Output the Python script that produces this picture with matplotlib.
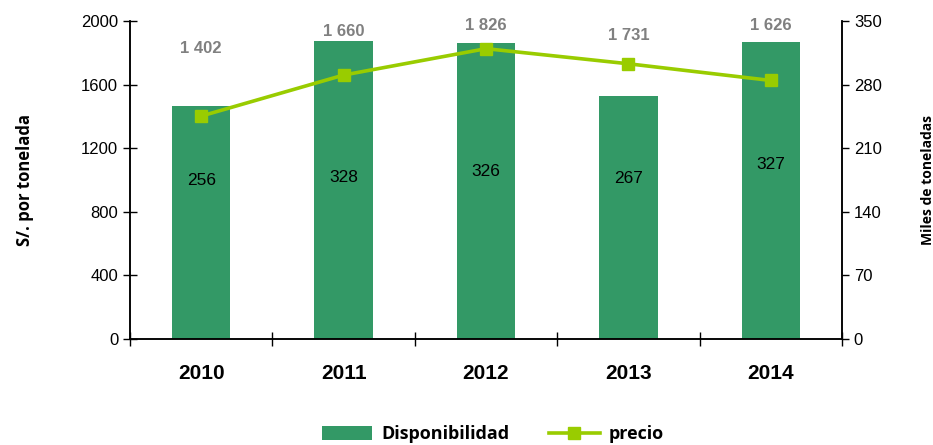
import numpy as np
import matplotlib.pyplot as plt

years = ['2010', '2011', '2012', '2013', '2014']
disponibilidad = [256, 328, 326, 267, 327]      # miles de toneladas
precio = [1402, 1660, 1826, 1731, 1626]          # S/. por tonelada

# where the value labels sit (in each axis' own units)
precio_label_y = [1828, 1931, 1969, 1906, 1969]
disp_label_y = [174, 178, 184, 177, 192]

bar_color = '#339966'
line_color = '#99cc00'

plt.rcParams['font.family'] = ['Liberation Sans', 'DejaVu Sans']

fig = plt.figure(figsize=(9.33, 4.45), dpi=100)
ax = fig.add_axes([0.1393, 0.2382, 0.7632, 0.7146])
ax2 = ax.twinx()

x = np.arange(len(years))

# bars on the right axis, price line on the left axis
ax2.bar(x, disponibilidad, width=0.41, color=bar_color, label='Disponibilidad', zorder=1)
ax.plot(x, precio, color=line_color, lw=2.6, marker='s', markersize=8,
        label='precio', zorder=5)
ax.set_zorder(ax2.get_zorder() + 1)
ax.patch.set_visible(False)

for xi, v, ly in zip(x, precio, precio_label_y):
    s = f'{v:,}'.replace(',', ' ')
    ax.text(xi, ly, s, ha='center', va='center', fontsize=12,
            fontweight='bold', color='#808080')
for xi, v, ly in zip(x, disponibilidad, disp_label_y):
    ax2.text(xi, ly, str(v), ha='center', va='center', fontsize=12.5, color='black')

ax.set_xlim(-0.5, 4.5)
ax.set_ylim(0, 2000)
ax.set_yticks(np.arange(0, 2001, 400))
ax2.set_ylim(0, 350)
ax2.set_yticks(np.arange(0, 351, 70))

ax.set_xticks(x)
ax.set_xticklabels(years, fontsize=15, fontweight='bold')
ax.tick_params(axis='x', length=0, pad=18)
ax.set_xticks(np.arange(-0.5, 5, 1), minor=True)
ax.tick_params(axis='x', which='minor', direction='inout', length=10, width=1)
ax.tick_params(axis='y', direction='inout', length=10, width=1, labelsize=12)
ax2.tick_params(axis='y', direction='out', length=5, width=1, labelsize=12)

for a in (ax, ax2):
    a.spines['top'].set_visible(False)
    for s in ('left', 'right', 'bottom'):
        a.spines[s].set_linewidth(1.1)

ax.set_ylabel('S/. por tonelada', fontsize=12, fontweight='bold',
              family=['Open Sans', 'DejaVu Sans'], labelpad=34)
ax2.set_ylabel('Miles de toneladas', fontsize=10, fontweight='bold',
               family=['Open Sans', 'DejaVu Sans'], labelpad=28)

handles = ax2.get_legend_handles_labels()[0] + ax.get_legend_handles_labels()[0]
labels = ['Disponibilidad', 'precio']
fig.legend(handles, labels, loc='center', bbox_to_anchor=(0.528, 0.024), ncol=2,
           frameon=False, handlelength=2.8, handleheight=0.8, columnspacing=2.2,
           handletextpad=0.5,
           prop={'family': ['Open Sans', 'DejaVu Sans'], 'weight': 'bold', 'size': 13})

fig.savefig('out.png', dpi=100)
